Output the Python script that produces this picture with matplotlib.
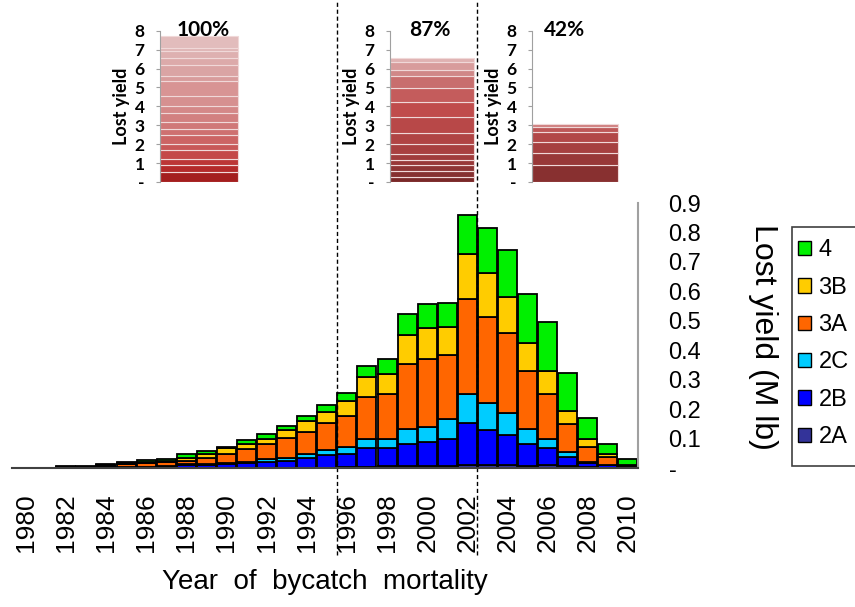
import matplotlib
matplotlib.use("Agg")
import numpy as np
from matplotlib import pyplot as plt
from matplotlib.patches import Patch, Rectangle

# lost yield by year of bycatch mortality (M lb), per regulatory area
years = list(range(1980, 2011))
area_2A = [0, 0, 0, 0, 0, 0, 0, 0, 0, 0, 0, 0, 0, 0, 0, 0.001,
           0.002, 0.003, 0.006, 0.008, 0.008, 0.008, 0.011, 0.011, 0.011, 0.008,
           0.011, 0.008, 0.002, 0, 0]
area_2B = [0, 0, 0, 0, 0.002, 0.002, 0.003, 0.005, 0.010, 0.011, 0.013, 0.018, 0.021, 0.025, 0.034, 0.042,
           0.044, 0.065, 0.062, 0.074, 0.080, 0.091, 0.143, 0.117, 0.100, 0.072,
           0.057, 0.029, 0.015, 0.009, 0.001]
area_2C = [0, 0, 0, 0, 0, 0, 0, 0.001, 0.002, 0.002, 0.003, 0.003, 0.011, 0.010, 0.015, 0.018,
           0.026, 0.031, 0.031, 0.049, 0.052, 0.067, 0.099, 0.092, 0.075, 0.054,
           0.032, 0.018, 0.002, 0.001, 0]
area_3A = [0, 0, 0.003, 0.003, 0.005, 0.010, 0.013, 0.013, 0.012, 0.022, 0.031, 0.043, 0.049, 0.068, 0.074, 0.091,
           0.105, 0.143, 0.154, 0.221, 0.229, 0.219, 0.320, 0.294, 0.273, 0.197,
           0.153, 0.096, 0.053, 0.028, 0.006]
area_3B = [0, 0, 0.002, 0.002, 0.002, 0.004, 0.004, 0.005, 0.011, 0.014, 0.021, 0.016, 0.019, 0.026, 0.035, 0.037,
           0.051, 0.066, 0.067, 0.099, 0.105, 0.094, 0.154, 0.148, 0.121, 0.095,
           0.076, 0.042, 0.027, 0.008, 0.004]
area_4 = [0, 0, 0.003, 0.003, 0.004, 0.006, 0.007, 0.008, 0.011, 0.008, 0.004, 0.015, 0.014, 0.014, 0.017, 0.026,
          0.027, 0.040, 0.049, 0.072, 0.082, 0.083, 0.133, 0.154, 0.162, 0.164,
          0.168, 0.128, 0.072, 0.036, 0.018]

series = [("2A", area_2A), ("2B", area_2B), ("2C", area_2C),
          ("3A", area_3A), ("3B", area_3B), ("4", area_4)]
colors = {"2A": "#333399", "2B": "#0000ff", "2C": "#00ccff",
          "3A": "#ff6600", "3B": "#ffcc00", "4": "#00f000"}

y_ticks = [0, 0.1, 0.2, 0.3, 0.4, 0.5, 0.6, 0.7, 0.8, 0.9]
y_ticklabels = ["-", "0.1", "0.2", "0.3", "0.4", "0.5", "0.6", "0.7", "0.8", "0.9"]
x_ticks = list(range(1980, 2011, 2))

# small panels: cumulative lost yield, stacked by year
inset_labels = ["100%", "87%", "42%"]
inset1 = [0.53, 0.35, 0.35, 0.44, 0.35, 0.44, 0.35, 0.35, 0.49, 0.39, 0.52, 0.79, 0.27, 0.56, 0.40, 0.35, 0.18, 0.61]
inset2 = [0.26, 0.30, 0.32, 0.26, 0.35, 0.53, 0.58, 0.82, 0.79, 0.74, 0.63, 0.35, 0.39, 0.26]
inset3 = [0.88, 0.65, 0.58, 0.52, 0.30, 0.14]
inset1_colors = ["#a41e1e", "#b42a2a", "#bc3636", "#c44848", "#c85858", "#cc6464", "#ce7070", "#d07878",
                 "#d28080", "#d48888", "#d69090", "#d89494", "#d89c9c", "#daa4a4", "#dcaaaa", "#deb0b0",
                 "#e0b6b6", "#e2bcbc"]
inset2_colors = ["#7a2828", "#863030", "#8e3434", "#983838", "#a03c3c", "#a84040", "#b04444", "#b84848",
                 "#c04c4c", "#c45c5c", "#c86e6e", "#d08888", "#d89c9c", "#e0b2b2"]
inset3_colors = ["#883030", "#983838", "#a64040", "#b24848", "#be5858", "#d08080"]

plt.rcParams["font.family"] = ["Liberation Sans", "DejaVu Sans"]

fig = plt.figure(figsize=(8.55, 6.07), dpi=100)
W, H = 855, 607

ax = fig.add_axes([12 / W, 1 - 468 / H, 626 / W, 265 / H])
bottom = np.zeros(len(years))
handles = []
for name, vals in series:
    ax.bar(years, vals, width=0.95, bottom=bottom, color=colors[name],
           edgecolor="black", linewidth=1.3)
    bottom += np.array(vals)
    handles.append(Patch(facecolor=colors[name], edgecolor="black", linewidth=1, label=name))

ax.set_xlim(1979.32, 2010.5)
ax.set_ylim(0, 0.9)
for s in ["left", "top"]:
    ax.spines[s].set_visible(False)
ax.spines["bottom"].set_color("#404040")
ax.spines["bottom"].set_linewidth(1.5)
ax.spines["right"].set_color("#a0a0a0")
ax.spines["right"].set_linewidth(1.5)

ax.yaxis.tick_right()
ax.set_yticks(y_ticks)
ax.set_yticklabels(y_ticklabels, fontsize=17)
ax.set_yticks([0.1, 0.3, 0.5], minor=True)
ax.tick_params(axis="y", which="major", length=0, pad=22)
ax.tick_params(axis="y", which="minor", length=7, width=1.2, color="#a0a0a0", direction="out")
for lbl in ax.get_yticklabels():
    lbl.set_horizontalalignment("left")

ax.set_xticks(x_ticks)
ax.set_xticklabels([str(y) for y in x_ticks], rotation=90, fontsize=19)
ax.tick_params(axis="x", length=0, pad=18)
ax.set_xlabel("Year  of  bycatch  mortality", fontsize=20, labelpad=12)

ax.set_ylabel("Lost yield (M lb)", fontsize=23, rotation=270)
ax.yaxis.set_label_coords((748 - 12) / 626, (468 - 337) / 265)

for xv in [1995.5, 2002.5]:
    ax.axvline(xv, ymin=-87 / 265, ymax=468 / 265, clip_on=False, color="black",
               linewidth=1, linestyle=(0, (3, 2)))

# legend
fig.add_artist(Rectangle((792 / W, 1 - 466 / H), 80 / W, 239 / H, transform=fig.transFigure,
                         facecolor="white", edgecolor="#404040", linewidth=1.2))
fig.legend(handles[::-1], [h.get_label() for h in handles[::-1]], loc="upper left",
           bbox_to_anchor=(789 / W, 1 - 230 / H), frameon=False, fontsize=17,
           handlelength=0.55, handleheight=0.55, handletextpad=0.3, labelspacing=0.65,
           borderaxespad=0)

# small panels
inset_specs = [(160, 240, inset1, inset1_colors, 0.54),
               (390, 476, inset2, inset2_colors, 0.465),
               (532, 620, inset3, inset3_colors, 0.375)]
for (x0, x1, segs, cols, lx), lab in zip(inset_specs, inset_labels):
    iax = fig.add_axes([x0 / W, 1 - 182 / H, (x1 - x0) / W, 151.3 / H])
    iax.patch.set_alpha(0)
    b = 0
    for v, c in zip(segs, cols):
        iax.bar(0, v, width=0.98, bottom=b, align="edge", color=c,
                edgecolor="#f0d8d8", linewidth=0.8)
        b += v
    iax.set_xlim(0, 1)
    iax.set_ylim(0, 8)
    for s in ["right", "top", "bottom"]:
        iax.spines[s].set_visible(False)
    iax.spines["left"].set_color("#a0a0a0")
    iax.set_xticks([])
    iax.set_yticks(range(0, 9))
    iax.set_yticklabels(["-"] + [str(i) for i in range(1, 9)],
                        fontsize=12.5, fontweight="bold", family=["Lato", "DejaVu Sans"])
    iax.tick_params(axis="y", length=3, color="#a0a0a0", pad=8)
    iax.set_ylabel("Lost yield", fontsize=13, fontweight="bold",
                   family=["Lato", "DejaVu Sans"], labelpad=3)
    iax.text(lx, 8.05, lab, ha="center", va="center", fontsize=15, fontweight="bold",
             family=["Lato", "DejaVu Sans"], clip_on=False)

fig.savefig("out.png", dpi=100)
